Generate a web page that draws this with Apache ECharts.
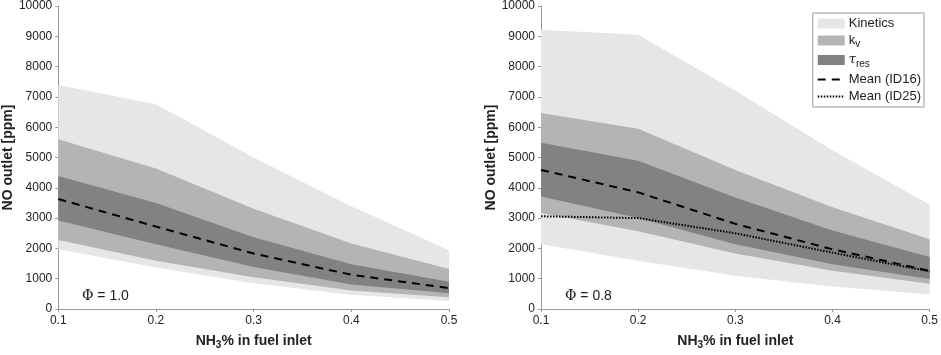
<!DOCTYPE html>
<html>
<head>
<meta charset="utf-8">
<script src="https://cdn.jsdelivr.net/npm/echarts@6/dist/echarts.min.js"></script>
<style>
html, body { margin: 0; padding: 0; background: #fff; }
#chart { width: 941px; height: 355px; }
</style>
</head>
<body>
<div id="chart"></div>
<script>
// NH3 fraction in fuel inlet
var xLabels = ['0.1', '0.2', '0.3', '0.4', '0.5'];
var yTicks = [0, 1000, 2000, 3000, 4000, 5000, 6000, 7000, 8000, 9000, 10000];

// Phi = 1.0 (left)
var kinLow1 = [1970, 1370, 850, 470, 260];
var kinHigh1 = [7390, 6760, 5000, 3390, 1940];
var kvLow1 = [2280, 1590, 1050, 610, 390];
var kvHigh1 = [5600, 4640, 3310, 2160, 1320];
var tauLow1 = [2920, 2140, 1390, 810, 520];
var tauHigh1 = [4390, 3500, 2370, 1480, 900];
var mean16_1 = [3630, 2720, 1830, 1130, 690];

// Phi = 0.8 (right)
var kinLow2 = [2140, 1590, 1100, 740, 480];
var kinHigh2 = [9220, 9050, 7200, 5240, 3440];
var kvLow2 = [3170, 2570, 1830, 1260, 830];
var kvHigh2 = [6470, 5950, 4590, 3360, 2300];
var tauLow2 = [3710, 3000, 2140, 1480, 990];
var tauHigh2 = [5490, 4890, 3680, 2590, 1720];
var mean16_2 = [4590, 3850, 2810, 1970, 1260];
var mean25_2 = [3060, 3000, 2500, 1860, 1240];

var colKin = '#e6e6e6', colKv = '#b4b4b4', colTau = '#828282';

function diffs(lo, hi) {
    return lo.map(function (v, i) { return hi[i] - v; });
}

// band = invisible base + stacked thickness
function band(name, lo, hi, color, idx) {
    var stack = 'b' + idx + name;
    return [
        {
            name: name + '_base', type: 'line', xAxisIndex: idx, yAxisIndex: idx,
            stack: stack, data: lo, symbol: 'none', silent: true,
            lineStyle: { opacity: 0 }, areaStyle: { opacity: 0 }
        },
        {
            name: name, type: 'line', xAxisIndex: idx, yAxisIndex: idx,
            stack: stack, data: diffs(lo, hi), symbol: 'none',
            color: color, itemStyle: { color: color },
            lineStyle: { width: 0, opacity: 0 },
            areaStyle: { color: color, opacity: 1 }
        }
    ];
}

function meanLine(name, ys, type, idx) {
    return {
        name: name, type: 'line', xAxisIndex: idx, yAxisIndex: idx,
        data: ys, symbol: 'none', showSymbol: false, z: 5,
        color: '#000',
        lineStyle: { color: '#000', width: 2, type: type }
    };
}

var axisTxt = { color: '#222', fontSize: 12, fontFamily: 'Liberation Sans' };

function xAx(idx) {
    return {
        type: 'category', gridIndex: idx, data: xLabels, boundaryGap: false,
        name: '{b|NH}{s|3}{b|% in fuel inlet}', nameLocation: 'middle', nameGap: 23,
        nameTextStyle: {
            rich: {
                b: { fontSize: 14, fontWeight: 'bold', color: '#222', fontFamily: 'Liberation Sans' },
                s: { fontSize: 10, fontWeight: 'bold', color: '#222', fontFamily: 'Liberation Sans', padding: [8, 0, 0, 0] }
            }
        },
        axisLine: { onZero: false, lineStyle: { color: '#999' } },
        axisTick: { show: true, length: 3, lineStyle: { color: '#999' } },
        axisLabel: Object.assign({ margin: 6 }, axisTxt),
        splitLine: { show: false }
    };
}
function yAx(idx) {
    return {
        type: 'value', gridIndex: idx, min: yTicks[0], max: yTicks[yTicks.length - 1], interval: 1000,
        name: 'NO outlet [ppm]', nameLocation: 'middle', nameGap: 38,
        nameTextStyle: { fontSize: 14, fontWeight: 'bold', color: '#222', fontFamily: 'Liberation Sans' },
        axisLine: { show: true, lineStyle: { color: '#999' } },
        axisTick: { show: true, length: 3, lineStyle: { color: '#999' } },
        axisLabel: Object.assign({ margin: 6, formatter: function (v) { return String(v); } }, axisTxt),
        splitLine: { show: false }
    };
}

var series = []
    .concat(band('Kinetics', kinLow1, kinHigh1, colKin, 0))
    .concat(band('k_v', kvLow1, kvHigh1, colKv, 0))
    .concat(band('tau_res', tauLow1, tauHigh1, colTau, 0))
    .concat([meanLine('Mean (ID16)', mean16_1, [8, 6], 0)])
    .concat(band('Kinetics', kinLow2, kinHigh2, colKin, 1))
    .concat(band('k_v', kvLow2, kvHigh2, colKv, 1))
    .concat(band('tau_res', tauLow2, tauHigh2, colTau, 1))
    .concat([meanLine('Mean (ID16)', mean16_2, [8, 6], 1)])
    .concat([meanLine('Mean (ID25)', mean25_2, [1.5, 1.5], 1)]);

var legendNames = {
    'Kinetics': 'Kinetics',
    'k_v': '{t|k}{s|v}',
    'tau_res': '{g|\u03c4}{s|res}',
    'Mean (ID16)': 'Mean (ID16)',
    'Mean (ID25)': 'Mean (ID25)'
};

var myChart = echarts.init(document.getElementById('chart'), null, { renderer: 'canvas' });
var option = {
    animation: false,
    grid: [
        { left: 58, right: 492, top: 6, bottom: 43 },
        { left: 541, right: 9, top: 6, bottom: 43 }
    ],
    xAxis: [xAx(0), xAx(1)],
    yAxis: [yAx(0), yAx(1)],
    legend: {
        right: 17, top: 13, orient: 'vertical',
        padding: [4, 3, 4, 4], itemGap: 4,
        itemWidth: 27, itemHeight: 10,
        borderColor: '#999', borderWidth: 1, backgroundColor: '#fff',
        data: [
            { name: 'Kinetics', icon: 'rect' },
            { name: 'k_v', icon: 'rect' },
            { name: 'tau_res', icon: 'rect' },
            { name: 'Mean (ID16)', itemStyle: { opacity: 0 } },
            { name: 'Mean (ID25)', itemStyle: { opacity: 0 } }
        ],
        formatter: function (n) { return legendNames[n]; },
        textStyle: {
            color: '#222', fontSize: 13, fontFamily: 'Liberation Sans', padding: [0, 0, 0, -1],
            rich: {
                t: { fontSize: 13, color: '#222', fontFamily: 'Liberation Sans' },
                s: { fontSize: 10, color: '#222', fontFamily: 'Liberation Sans', padding: [8, 0, 0, 0] },
                g: { fontSize: 13, color: '#222', fontFamily: 'DejaVu Serif', fontStyle: 'italic' }
            }
        }
    },
    graphic: [
        { type: 'text', left: 82, top: 289, style: { rich: { p: { fontFamily: 'DejaVu Serif', fontSize: 14, fill: '#222' }, n: { fontFamily: 'Liberation Sans', fontSize: 14, fill: '#222' } }, text: '{p|\u03a6}{n| = 1.0}' } },
        { type: 'text', left: 565, top: 289, style: { rich: { p: { fontFamily: 'DejaVu Serif', fontSize: 14, fill: '#222' }, n: { fontFamily: 'Liberation Sans', fontSize: 14, fill: '#222' } }, text: '{p|\u03a6}{n| = 0.8}' } }
    ],
    series: series
};
myChart.setOption(option);
</script>
</body>
</html>
